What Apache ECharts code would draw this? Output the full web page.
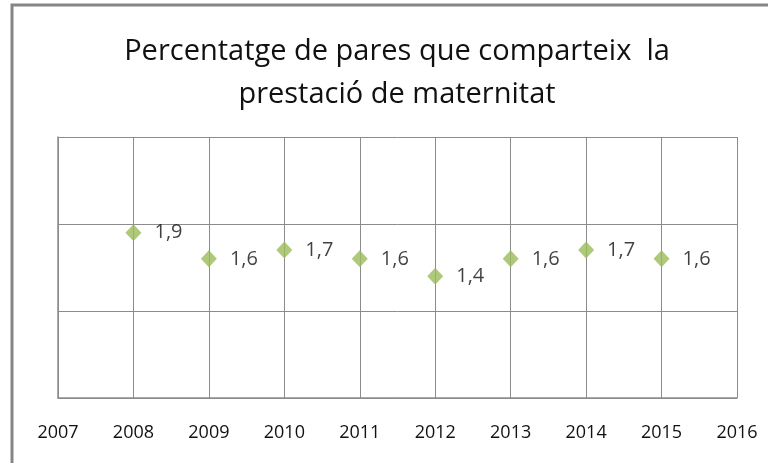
<!DOCTYPE html>
<html>
<head>
<meta charset="utf-8">
<script src="https://cdn.jsdelivr.net/npm/echarts@6/dist/echarts.min.js"></script>
<style>
html,body{margin:0;padding:0;background:#fff;}
#chart{width:768px;height:463px;}
</style>
</head>
<body>
<div id="chart"></div>
<script>
// anys i percentatges
var years=[2008,2009,2010,2011,2012,2013,2014,2015];
var values=[1.9,1.6,1.7,1.6,1.4,1.6,1.7,1.6];
var titleLines=['Percentatge de pares que comparteix  la','prestació de maternitat'];

var points=years.map(function(y,i){
    return [y,values[i]];
});

var myChart=echarts.init(document.getElementById('chart'));
myChart.setOption({
    animation:false,
    backgroundColor:'#fff',
    title:{
        text:titleLines.join('\n'),
        left:392,
        top:25,
        textAlign:'center',
        textStyle:{
            fontFamily:'Open Sans',
            fontWeight:'normal',
            fontSize:29,
            color:'#111',
            lineHeight:43
        }
    },
    grid:{
        left:58,
        top:137,
        right:31,
        bottom:65
    },
    xAxis:{
        type:'value',
        min:2007,
        max:2016,
        interval:1,
        axisLine:{show:true,lineStyle:{color:'#8c8c8c',width:1.5}},
        axisTick:{show:false},
        splitLine:{show:true,lineStyle:{color:'#8c8c8c'}},
        axisLabel:{
            margin:26,
            fontFamily:'Open Sans',
            fontSize:18,
            color:'#111',
            formatter:function(v){return String(v);}
        }
    },
    yAxis:{
        type:'value',
        min:0,
        max:3,
        interval:1,
        axisLine:{show:true,lineStyle:{color:'#8c8c8c',width:1.5}},
        axisTick:{show:false},
        axisLabel:{show:false},
        splitLine:{show:true,lineStyle:{color:'#8c8c8c'}}
    },
    graphic:[{
        type:'rect',
        shape:{x:12,y:5,width:770,height:470},
        style:{fill:'none',stroke:'#868686',lineWidth:3},
        silent:true
    }],
    series:[{
        type:'scatter',
        data:points,
        symbol:'diamond',
        symbolSize:[16,17],
        itemStyle:{color:'#9BBB59'},
        label:{
            show:true,
            position:'right',
            distance:13,
            fontFamily:'Open Sans',
            fontSize:20,
            color:'#111',
            formatter:function(p){
                return String(p.value[1]).replace('.',',');
            }
        }
    }]
});
</script>
</body>
</html>
